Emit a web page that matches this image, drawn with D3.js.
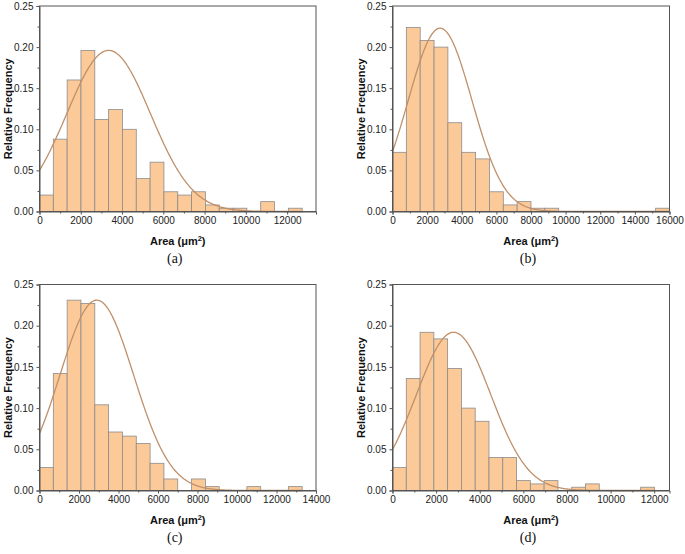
<!DOCTYPE html>
<html>
<head>
<meta charset="utf-8">
<script src="https://cdn.jsdelivr.net/npm/d3@7/dist/d3.min.js"></script>
<style>
  html, body { margin: 0; padding: 0; background: #fff; }
  svg { display: block; }
</style>
</head>
<body>
<svg id="chart" width="685" height="554"></svg>
<script>
// ---------- data ----------
const panelNames = ["(a)", "(b)", "(c)", "(d)"];
// relative frequencies per bin (bins start at 0)
const freqA = [0.020, 0.088, 0.160, 0.196, 0.112, 0.124, 0.100, 0.040, 0.060, 0.024, 0.020, 0.024, 0.008, 0.004, 0.004, 0, 0.012, 0, 0.004];
const freqB = [0.072, 0.224, 0.208, 0.200, 0.108, 0.072, 0.064, 0.024, 0.008, 0.012, 0.004, 0.004, 0, 0, 0, 0, 0, 0, 0, 0.004];
const freqC = [0.028, 0.142, 0.231, 0.227, 0.104, 0.071, 0.066, 0.057, 0.033, 0.014, 0, 0.014, 0.0047, 0, 0, 0.0047, 0, 0, 0.0047];
const freqD = [0.028, 0.136, 0.192, 0.184, 0.148, 0.100, 0.084, 0.040, 0.040, 0.012, 0.008, 0.012, 0, 0.004, 0.008, 0, 0, 0, 0.004];
const binWidths = [670, 800, 700, 632];
const xMaxes = [13400, 16000, 14000, 12700];
const xTicksA = [0, 2000, 4000, 6000, 8000, 10000, 12000];
const xTicksB = [0, 2000, 4000, 6000, 8000, 10000, 12000, 14000, 16000];
const xTicksC = [0, 2000, 4000, 6000, 8000, 10000, 12000, 14000];
const xTicksD = [0, 2000, 4000, 6000, 8000, 10000, 12000];
const yTicks = [0, 0.05, 0.10, 0.15, 0.20, 0.25];
// normal-fit curve parameters (mean, sd, peak height)
const fitMeans = [3350, 2750, 2900, 2800];
const fitSDs = [2030, 1840, 1866, 1704];
const fitPeaks = [0.196, 0.223, 0.231, 0.192];

const freqs = [freqA, freqB, freqC, freqD];
const xTicksAll = [xTicksA, xTicksB, xTicksC, xTicksD];

// ---------- layout ----------
const boxes = [
  {x0: 39.5, x1: 316, y0: 6, y1: 211.5},
  {x0: 392.5, x1: 669.5, y0: 6, y1: 211.5},
  {x0: 39.5, x1: 316, y0: 284.5, y1: 490.5},
  {x0: 392.5, x1: 669.5, y0: 284.5, y1: 490.5}
];

const svg = d3.select("#chart");
const FONT = "'Liberation Sans', Arial, Helvetica, sans-serif";
const axisColor = "#555";

boxes.forEach((b, p) => {
  const x = d3.scaleLinear().domain([0, xMaxes[p]]).range([b.x0, b.x1]);
  const y = d3.scaleLinear().domain([0, 0.25]).range([b.y1, b.y0]);
  const g = svg.append("g");
  const bw = binWidths[p];

  // bars
  g.selectAll("rect.bar")
    .data(freqs[p].map((f, i) => ({f, i})).filter(d => d.f > 0))
    .join("rect")
    .attr("class", "bar")
    .attr("x", d => x(d.i * bw))
    .attr("width", d => x((d.i + 1) * bw) - x(d.i * bw))
    .attr("y", d => y(d.f))
    .attr("height", d => y(0) - y(d.f))
    .attr("fill", "#FCC998")
    .attr("stroke", "#8c8c8c")
    .attr("stroke-width", 0.8);

  // fitted normal curve
  const xEnd = freqs[p].length * bw;
  const pts = d3.range(0, xEnd + 1, xEnd / 300).map(v => [v,
    fitPeaks[p] * Math.exp(-((v - fitMeans[p]) ** 2) / (2 * fitSDs[p] ** 2))]);
  g.append("path")
    .datum(pts)
    .attr("fill", "none")
    .attr("stroke", "#C0906A")
    .attr("stroke-width", 1.3)
    .attr("d", d3.line().x(d => x(d[0])).y(d => y(d[1])));

  // frame (top/right)
  g.append("rect")
    .attr("x", b.x0).attr("y", b.y0)
    .attr("width", b.x1 - b.x0).attr("height", b.y1 - b.y0)
    .attr("fill", "none").attr("stroke", axisColor).attr("stroke-width", 1);

  // x axis
  const xt = xTicksAll[p];
  const xMinor = xt.slice(0, -1).map((t, i) => (t + xt[i + 1]) / 2);
  const xa = g.append("g").attr("transform", `translate(0,${b.y1})`)
    .call(d3.axisBottom(x).tickValues(xt).tickSize(3).tickPadding(2).tickFormat(d3.format("d")));
  g.append("g").attr("transform", `translate(0,${b.y1})`)
    .call(d3.axisBottom(x).tickValues(xMinor).tickSize(2).tickFormat(""))
    .call(s => s.select(".domain").remove());

  // y axis
  const yMinor = yTicks.slice(0, -1).map((t, i) => (t + yTicks[i + 1]) / 2);
  g.append("g").attr("transform", `translate(${b.x0},0)`)
    .call(d3.axisLeft(y).tickValues(yTicks).tickSize(3).tickPadding(3).tickFormat(d3.format(".2f")));
  g.append("g").attr("transform", `translate(${b.x0},0)`)
    .call(d3.axisLeft(y).tickValues(yMinor).tickSize(2).tickFormat(""))
    .call(s => s.select(".domain").remove());

  g.selectAll(".domain").attr("stroke", axisColor);
  g.selectAll(".tick line").attr("stroke", axisColor);
  g.selectAll(".tick text").attr("font-family", FONT).attr("font-size", 10).attr("fill", "#222");

  // axis titles
  g.append("text")
    .attr("transform", `translate(${b.x0 - 32},${(b.y0 + b.y1) / 2}) rotate(-90)`)
    .attr("text-anchor", "middle")
    .attr("dominant-baseline", "central")
    .attr("font-family", FONT).attr("font-size", 11).attr("font-weight", "bold")
    .attr("fill", "#111")
    .text("Relative Frequency");

  const xt2 = g.append("text")
    .attr("x", (b.x0 + b.x1) / 2).attr("y", b.y1 + 33)
    .attr("text-anchor", "middle")
    .attr("font-family", FONT).attr("font-size", 11).attr("font-weight", "bold")
    .attr("fill", "#111");
  xt2.append("tspan").text("Area (μm");
  xt2.append("tspan").attr("dy", -4).attr("font-size", 7.5).text("2");
  xt2.append("tspan").attr("dy", 4).text(")");

  // panel caption
  g.append("text")
    .attr("x", (b.x0 + b.x1) / 2 - 3).attr("y", b.y1 + 51)
    .attr("text-anchor", "middle")
    .attr("font-family", "'Liberation Serif', 'Times New Roman', serif")
    .attr("font-size", 14).attr("fill", "#111")
    .text(panelNames[p]);
});
</script>
</body>
</html>
